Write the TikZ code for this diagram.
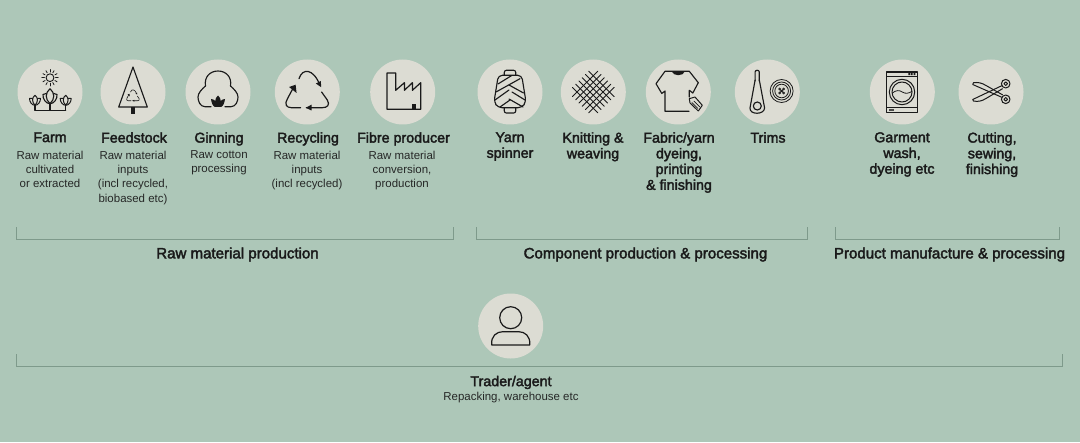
\documentclass[tikz,border=0pt]{standalone}
\usepackage{fontspec}
\setmainfont{Liberation Sans}[BoldFont={Liberation Sans},BoldFeatures={FakeBold=2.4}]
\definecolor{bgc}{HTML}{ADC7B8}
\definecolor{disc}{HTML}{DCDCD3}
\definecolor{ink}{HTML}{1A1A1A}
\definecolor{rule}{HTML}{7E9A8B}
\tikzset{
 x=0.75pt,y=-0.75pt,
 disk/.style={circle,fill=disc,minimum size=48.75pt,inner sep=0pt,outer sep=0pt},
 title/.style={align=center,font=\fontsize{10.7pt}{11.8pt}\selectfont\bfseries,text=ink,inner sep=0pt,anchor=north},
 sub/.style={align=center,font=\fontsize{8.6pt}{10.75pt}\selectfont,text=ink!92!bgc,inner sep=0pt,anchor=north},
 group/.style={align=center,font=\fontsize{11.3pt}{12pt}\selectfont\bfseries,text=ink,inner sep=0pt},
 ic/.style={draw=ink,line width=0.85pt,line join=round,line cap=round},
 brk/.style={draw=rule,line width=0.6pt}
}
\newcommand{\recycleicon}[1]{%
 \draw[ic,line width=#1] (-8.3,-13.3) .. controls (-5,-24) and (6,-24) .. (12.7,-6.7);
 \fill[ink] (13.9,-4.8) -- (8.5,-8.5) -- (13.5,-11) -- cycle;
 \draw[ic,line width=#1] (14.3,0) -- (20,8) .. controls (23,13) and (20,15.7) .. (15,15.7) -- (-1,15.7);
 \fill[ink] (-1.5,15.7) -- (4.2,12.7) -- (4.2,18.5) -- cycle;
 \draw[ic,line width=#1] (-6.7,15.7) -- (-16,15.7) .. controls (-21,15.7) and (-23,12) .. (-20,7) -- (-14.5,-3.3);
 \fill[ink] (-11.7,-7.3) -- (-18.2,-5) -- (-10.7,1) -- cycle;
}
\begin{document}
\begin{tikzpicture}
\useasboundingbox[fill=bgc] (0,0) rectangle (1080,442);
% discs
\node[disk] (farm) at (50,92) {};
\node[disk] (feed) at (133,92) {};
\node[disk] (gin) at (218,92) {};
\node[disk] (rec) at (307.3,92) {};
\node[disk] (fibre) at (402.7,92) {};
\node[disk] (yarn) at (510,92) {};
\node[disk] (knit) at (593.3,92) {};
\node[disk] (fab) at (678.3,92) {};
\node[disk] (trim) at (767.3,92) {};
\node[disk] (wash) at (902.3,92) {};
\node[disk] (cut) at (991,92) {};
\node[disk] (trader) at (510.7,326) {};
% titles
\node[title] (t1) at (50,132) {Farm};
\node[sub] (s1) at (50,150.5) {Raw material\\cultivated\\or extracted};
\node[title] (t2) at (134,132) {Feedstock};
\node[sub] (s2) at (133,150.5) {Raw material\\inputs\\(incl recycled,\\biobased etc)};
\node[title] (t3) at (219,132) {Ginning};
\node[sub] (s3) at (219,150.5) {Raw cotton\\processing};
\node[title] (t4) at (308,132) {Recycling};
\node[sub] (s4) at (307,150.5) {Raw material\\inputs\\(incl recycled)};
\node[title] (t5) at (403.5,132) {Fibre producer};
\node[sub] (s5) at (402,150.5) {Raw material\\conversion,\\production};
\node[title] (t6) at (510,132) {Yarn\\spinner};
\node[title] (t7) at (593,132) {Knitting \&\\weaving};
\node[title] (t8) at (679,132) {Fabric/yarn\\dyeing,\\printing\\\& finishing};
\node[title] (t9) at (768,132) {Trims};
\node[title] (t10) at (902,132) {Garment\\wash,\\dyeing etc};
\node[title] (t11) at (992,132) {Cutting,\\sewing,\\finishing};
\node[group] (g1) at (237.5,254.5) {Raw material production};
\node[group] (g2) at (645.5,254.5) {Component production \& processing};
\node[group] (g3) at (949.5,254.5) {Product manufacture \& processing};
\node[title] (t12) at (511,375.5) {Trader/agent};
\node[sub] (s12) at (511,391.5) {Repacking, warehouse etc};
% brackets
\coordinate (a1) at (16,227); \coordinate (a2) at (16,239.3); \coordinate (a3) at (453.5,239.3); \coordinate (a4) at (453.5,227);
\draw[brk] (a1)--(a2)--(a3)--(a4);
\coordinate (b1) at (476,227); \coordinate (b2) at (476,239.3); \coordinate (b3) at (807.5,239.3); \coordinate (b4) at (807.5,227);
\draw[brk] (b1)--(b2)--(b3)--(b4);
\coordinate (c1) at (835,227); \coordinate (c2) at (835,239.3); \coordinate (c3) at (1059.5,239.3); \coordinate (c4) at (1059.5,227);
\draw[brk] (c1)--(c2)--(c3)--(c4);
\coordinate (d1) at (16,354.3); \coordinate (d2) at (16,366.5); \coordinate (d3) at (1062.5,366.5); \coordinate (d4) at (1062.5,354.3);
\draw[brk] (d1)--(d2)--(d3)--(d4);
% farm icon
\begin{scope}[shift={(farm.center)}]
 \draw[ic,line width=0.7pt] (0,-14.3) circle (3.9);
 \foreach \a in {0,30,...,330} \draw[ic,line width=0.6pt] (0,-14.3) ++(\a:5.6) -- ++(\a:2.6);
 \draw[ic] (-15,18.3)--(15.7,18.3);
 \draw[ic] (0,18.3)--(0,11.7);
 \draw[ic] (-15,18.3)--(-15,13.3); \draw[ic] (15.7,18.3)--(15.7,13.3);
 \draw[ic] (0,-3.3) .. controls (-5,1) and (-5,7) .. (0,11.7) .. controls (5,7) and (5,1) .. (0,-3.3);
 \draw[ic] (-3.8,1.5) -- (-7,2.5) .. controls (-7.5,7) and (-4,11.7) .. (0,11.7) .. controls (4,11.7) and (7.5,7) .. (7,2.5) -- (3.8,1.5);
 \foreach \x in {-15,15.7}{
  \draw[ic,line width=0.75pt] (\x,3.3) .. controls (\x-3.2,5.5) and (\x-3.2,10) .. (\x,13.3) .. controls (\x+3.2,10) and (\x+3.2,5.5) .. (\x,3.3);
  \draw[ic,line width=0.75pt] (\x-2.5,6.5) -- (\x-5.5,6.5) .. controls (\x-5.5,10) and (\x-3,13.3) .. (\x,13.3) .. controls (\x+3,13.3) and (\x+5.5,10) .. (\x+5.5,6.5) -- (\x+2.5,6.5);
 }
\end{scope}
% feedstock icon
\begin{scope}[shift={(feed.center)}]
 \draw[ic] (0,-25)--(-14.3,15)--(14.3,15)--cycle;
 \fill[ink] (-2,15) rectangle (2,21.7);
 \begin{scope}[shift={(0,4)},scale=0.3]
  \recycleicon{0.45pt}
 \end{scope}
\end{scope}
% ginning icon
\begin{scope}[shift={(gin.center)}]
 \draw[ic] (-7,14.7) -- (-13,14.7) .. controls (-18,14.7) and (-20,9) .. (-20,5) .. controls (-20,1) and (-16,-3) .. (-12.5,-6) .. controls (-14,-15) and (-8,-21) .. (0,-21) .. controls (8,-21) and (14,-15) .. (12.5,-6) .. controls (16,-3) and (20,1) .. (20,5) .. controls (20,9) and (18,14.7) .. (13,14.7) -- (7,14.7);
 \fill[ink] (-7,7) .. controls (-6.5,11) and (-5,14.5) .. (-3,15) -- (3,15) .. controls (5,14.5) and (6.5,11) .. (7,7) .. controls (5,7) and (3.5,8) .. (2.8,9) .. controls (2.8,7) and (1.5,4.5) .. (0,3.5) .. controls (-1.5,4.5) and (-2.8,7) .. (-2.8,9) .. controls (-3.5,8) and (-5,7) .. (-7,7) -- cycle;
\end{scope}
% recycling icon
\begin{scope}[shift={(rec.center)}]
 \recycleicon{0.9pt}
\end{scope}
% factory icon
\begin{scope}[shift={(fibre.center)}]
 \draw[ic,line width=0.9pt] (-15.7,-19) -- (-7,-19) -- (-7,-1.7) -- (1.7,-9.3) -- (1.7,-1.7) -- (9.7,-9.3) -- (9.7,-1.7) -- (18,-9.3) -- (18,17.3) -- (-15.7,17.3) -- cycle;
 \fill[ink] (9.7,11.7) rectangle (13.3,17.3);
\end{scope}
% yarn icon
\begin{scope}[shift={(yarn.center)}]
 \draw[ic,rounded corners=1.5pt] (-5.7,-16.7) -- (-5.7,-21.7) -- (5.7,-21.7) -- (5.7,-16.7);
 \draw[ic,rounded corners=1.5pt] (-5.7,15.7) -- (-5.7,21) -- (5.7,21) -- (5.7,15.7);
 \draw[ic,rounded corners=3pt] (-11.7,-16.7) -- (11.7,-16.7) -- (16,10) -- (12,15.7) -- (-12,15.7) -- (-16,10) -- cycle;
 \draw[ic] (-12,-8) -- (1.7,-16.5) (-14,0) -- (10,-13.3) (-15,8) -- (-1,-2) (-10,15) -- (0,8);
 \draw[ic] (-1,-7) -- (13.5,1) (2,0) -- (15,8) (-1,7) -- (13,15);
\end{scope}
% knit icon
\begin{scope}[shift={(knit.center)}]
 \begin{scope}[rotate=45]
  \foreach \t in {-11.5,-6.9,-2.3,2.3,6.9,11.5}{
   \draw[ic,line width=0.7pt] (-18,\t) -- (18,\t);
   \draw[ic,line width=0.7pt] (\t,-18) -- (\t,18);
  }
 \end{scope}
\end{scope}
% shirt icon
\begin{scope}[shift={(fab.center)}]
 \draw[ic] (10.7,19.3) -- (-13.3,19.3) -- (-13.3,-1) -- (-16.5,1.5) -- (-22.3,-8.3) -- (-13.3,-20.7) -- (11,-20.7) -- (20,-9.3) -- (14.5,1) -- (11,-1.7) -- (11,5);
 \fill[ink] (-6.7,-20.7) .. controls (-5,-15.5) and (5,-15.5) .. (6.7,-20.7) -- cycle;
 \draw[ic,line width=0.75pt] (11,6.7) -- (16.7,5) -- (24,13.3) -- (20,19) -- (11.7,11) -- cycle;
 \draw[ic,line width=0.5pt] (15.5,9)--(21.5,15) (13.5,10.5)--(19.5,16.5);
\end{scope}
% trims icon
\begin{scope}[shift={(trim.center)}]
 \draw[ic] (-12.2,-11) -- (-12.2,-20) .. controls (-12.2,-22.3) and (-8,-22.3) .. (-8,-20) -- (-8,-11);
 \draw[ic] (-12.2,-12) -- (-17.3,16) .. controls (-18,23) and (-3,23) .. (-2.7,16) -- (-8,-12);
 \draw[ic] (-10,14) circle (4);
 \draw[ic,line width=0.6pt] (14.3,-1) circle (11.5);
 \draw[ic,line width=0.6pt] (14.3,-1) circle (9);
 \draw[ic,line width=0.6pt] (14.3,-1) circle (6.8);
 \draw[ic,line width=0.6pt] (12.3,-3) circle (1) (16.3,-3) circle (1) (12.3,1) circle (1) (16.3,1) circle (1);
 \draw[ic,line width=0.7pt] (13,-2.3) -- (15.6,0.3) (15.6,-2.3) -- (13,0.3);
\end{scope}
% washer icon
\begin{scope}[shift={(wash.center)}]
 \draw[ic] (-15.7,-20) rectangle (15,20.7);
 \draw[ic] (-15.7,-15.7) -- (15,-15.7) (-15.7,15.7) -- (15,15.7);
 \fill[ink] (6,-19) rectangle (7.8,-16.8) (8.6,-19) rectangle (10.4,-16.8) (11.2,-19) rectangle (13,-16.8);
 \fill[ink!75!disc] (-13,17.3) rectangle (-8,19.2);
 \draw[ic,line width=0.75pt] (-0.3,0) circle (12.7);
 \draw[ic,line width=0.75pt] (-0.3,0) circle (10);
 \draw[ic,line width=0.6pt] (-10,1) .. controls (-6,-2) and (-3,-2) .. (0,0) .. controls (3,2) and (6,1.5) .. (9.5,-0.5);
\end{scope}
% scissors icon
\begin{scope}[shift={(cut.center)}]
 \draw[ic,line width=0.75pt] (14.7,-8.3) circle (4.3); \draw[ic,line width=0.75pt] (14.7,-8.3) circle (1.8);
 \draw[ic,line width=0.75pt] (14.7,7.3) circle (4.3); \draw[ic,line width=0.75pt] (14.7,7.3) circle (1.8);
 \draw[ic,line width=0.75pt] (10.8,-6.3) -- (-18.3,7.5) -- (-17.5,9) .. controls (-13,10) and (-9,9) .. (-5,6.5) -- (11.5,-3.3);
 \draw[ic,line width=0.75pt] (10.8,5.3) -- (-18.3,-7.5) -- (-17.5,-9.3) .. controls (-13,-10) and (-9,-9) .. (-5,-6.5) -- (11.5,2.8);
\end{scope}
% person icon
\begin{scope}[shift={(trader.center)}]
 \draw[ic,line width=0.9pt] (0,-8.3) circle (11);
 \draw[ic,line width=0.9pt] (-19,19) -- (19,19) .. controls (20,10) and (14,5.7) .. (8,5.7) -- (-8,5.7) .. controls (-14,5.7) and (-20,10) .. (-19,19) -- cycle;
\end{scope}
\end{tikzpicture}
\end{document}
